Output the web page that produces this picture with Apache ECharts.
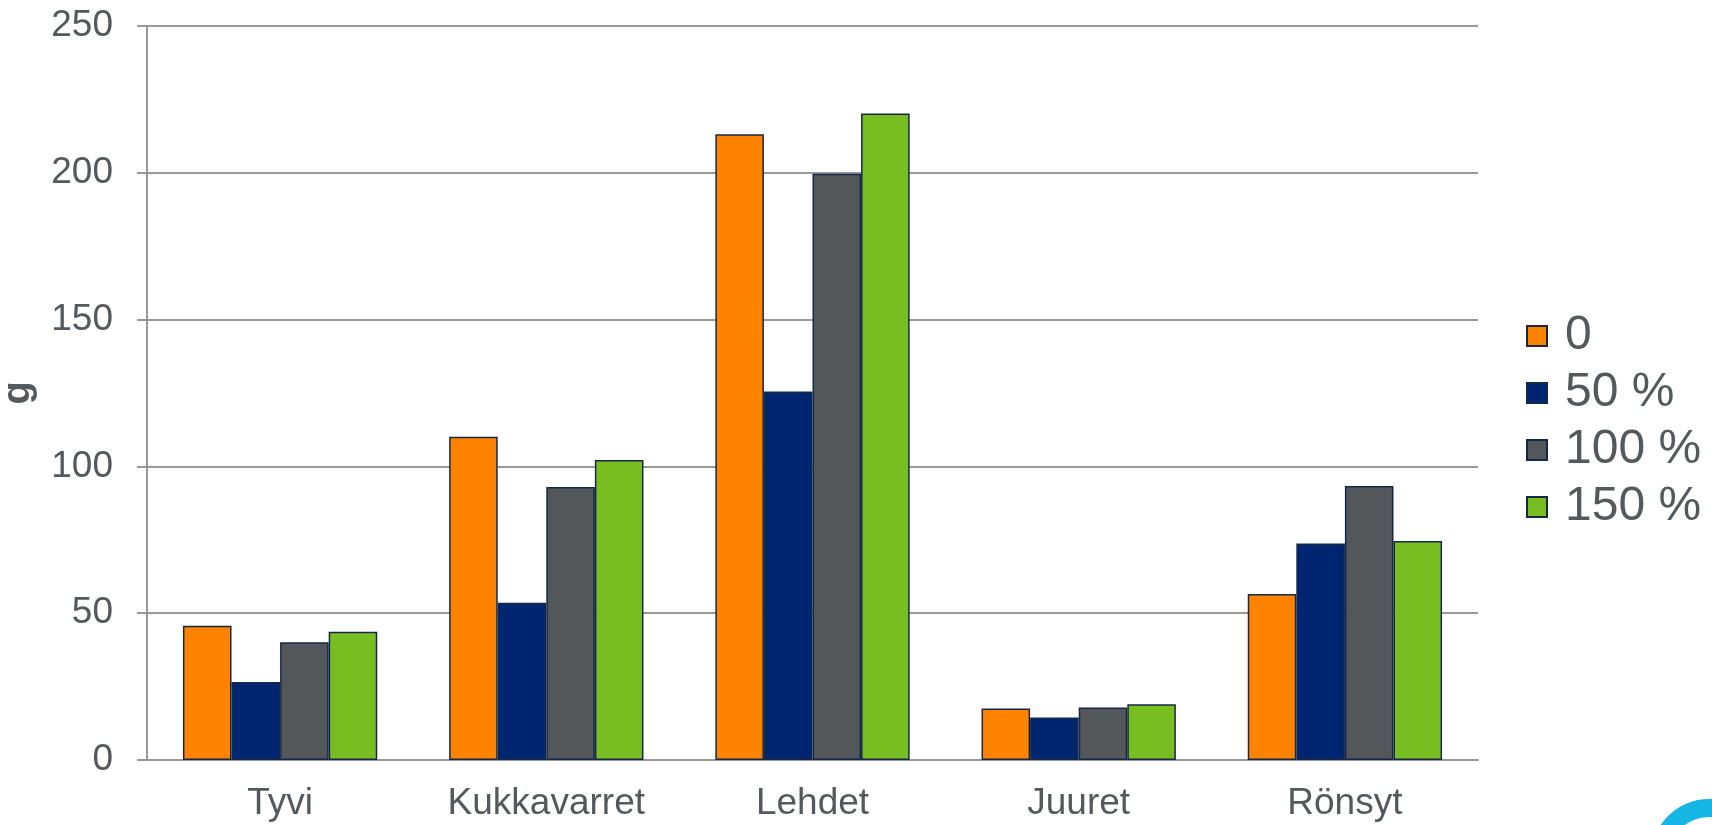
<!DOCTYPE html>
<html>
<head>
<meta charset="utf-8">
<script src="https://cdn.jsdelivr.net/npm/echarts@6/dist/echarts.min.js"></script>
<style>html,body{margin:0;padding:0;background:#fff}#c{width:1712px;height:825px}</style>
</head>
<body>
<div id="c"></div>
<script>
const categories = ['Tyvi', 'Kukkavarret', 'Lehdet', 'Juuret', 'Rönsyt'];
const seriesNames = ['0', '50 %', '100 %', '150 %'];
const s0 = [45.7, 110.1, 213.1, 17.5, 56.5];
const s50 = [26.6, 53.6, 125.5, 14.5, 73.7];
const s100 = [40.1, 93.0, 199.7, 17.9, 93.3];
const s150 = [43.7, 102.2, 220.2, 19.0, 74.6];
const yTicks = [0, 50, 100, 150, 200, 250];

const colors = ['#ff8300', '#002672', '#53575a', '#78be20'];
const values = [s0, s50, s100, s150];
const font = 'Liberation Sans, Arial, sans-serif';
const txt = '#54595d';

const chart = echarts.init(document.getElementById('c'), null, {renderer: 'canvas'});
chart.setOption({
  animation: false,
  grid: {left: 147, right: 234, top: 26, bottom: 65, containLabel: false, outerBoundsMode: 'none'},
  legend: {
    orient: 'vertical', left: 1521, top: 307,
    itemWidth: 20, itemHeight: 20, itemGap: 9,
    icon: 'rect',
    textStyle: {fontFamily: font, fontSize: 48, color: txt, padding: [0, 0, 0, 13]},
    data: seriesNames
  },
  xAxis: {
    type: 'category', data: categories,
    axisLine: {lineStyle: {color: '#999', width: 2}},
    axisTick: {show: false},
    axisLabel: {fontFamily: font, fontSize: 37, color: txt, margin: 25}
  },
  yAxis: {
    type: 'value', min: yTicks[0], max: yTicks[yTicks.length - 1], interval: 50,
    name: 'g', nameLocation: 'middle', nameGap: 109, nameRotate: 90,
    nameTextStyle: {fontFamily: font, fontSize: 38, fontWeight: 'bold', color: txt},
    axisLine: {show: true, lineStyle: {color: '#999', width: 2}},
    axisTick: {show: true, length: 10, lineStyle: {color: '#999', width: 2}},
    splitLine: {lineStyle: {color: '#999', width: 2}},
    axisLabel: {fontFamily: font, fontSize: 37, color: txt, margin: 34}
  },
  series: seriesNames.map((n, i) => ({
    name: n, type: 'bar', data: values[i],
    barGap: '0%', barCategoryGap: '27%',
    itemStyle: {color: colors[i], borderColor: '#14284a', borderWidth: 1.5}
  })),
  graphic: [{
    type: 'ring', shape: {cx: 1709, cy: 857, r: 58, r0: 40},
    style: {fill: '#16b6e6'}, silent: true
  }]
});
</script>
</body>
</html>
